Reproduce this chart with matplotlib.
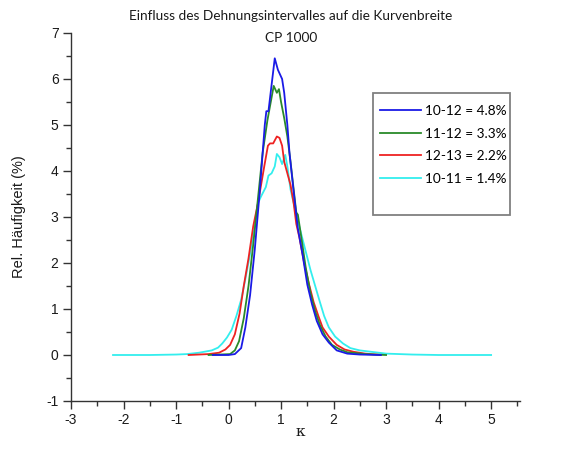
import matplotlib
matplotlib.use("Agg")
from matplotlib import pyplot as plt
from matplotlib.patches import Rectangle
from matplotlib.ticker import MultipleLocator

plt.rcParams['axes.unicode_minus'] = False

# kappa / relative frequency (%) per strain interval
blue_k = [-0.3, 0.0, 0.12, 0.24, 0.32, 0.41, 0.50, 0.59, 0.65, 0.69, 0.72, 0.76, 0.88, 0.94,
          1.02, 1.06, 1.12, 1.16, 1.24, 1.32, 1.41, 1.50, 1.59, 1.68, 1.79, 1.91, 2.06, 2.26,
          2.5, 2.9]
blue_v = [0.0, 0.0, 0.02, 0.15, 0.6, 1.3, 2.3, 3.5, 4.4, 5.0, 5.3, 5.3, 6.45, 6.2,
          6.0, 5.7, 5.0, 4.4, 3.55, 2.75, 2.18, 1.53, 1.1, 0.74, 0.45, 0.27, 0.1, 0.03,
          0.01, 0.0]

green_k = [-0.38, 0.03, 0.12, 0.20, 0.29, 0.38, 0.47, 0.56, 0.65, 0.74, 0.82, 0.86, 0.90,
           0.92, 0.96, 1.00, 1.06, 1.12, 1.18, 1.24, 1.29, 1.32, 1.38, 1.47, 1.56, 1.65,
           1.74, 1.85, 1.97, 2.12, 2.26, 2.6, 3.0]
green_v = [0.0, 0.02, 0.1, 0.3, 0.8, 1.5, 2.4, 3.4, 4.4, 5.1, 5.6, 5.85, 5.75,
           5.7, 5.78, 5.5, 5.15, 4.75, 4.2, 3.6, 3.1, 3.05, 2.6, 1.9, 1.35, 0.95,
           0.65, 0.4, 0.22, 0.12, 0.06, 0.02, 0.0]

red_k = [-0.76, -0.38, -0.18, -0.06, 0.03, 0.12, 0.21, 0.29, 0.38, 0.47, 0.56, 0.62, 0.68,
         0.75, 0.79, 0.85, 0.92, 0.97, 1.02, 1.06, 1.12, 1.18, 1.24, 1.29, 1.35, 1.44,
         1.53, 1.62, 1.71, 1.79, 1.91, 2.06, 2.21, 2.38, 2.6, 2.9]
red_v = [0.0, 0.02, 0.05, 0.12, 0.22, 0.45, 0.9, 1.5, 2.1, 2.8, 3.3, 3.7, 4.1,
         4.55, 4.6, 4.6, 4.75, 4.72, 4.55, 4.2, 3.95, 3.7, 3.3, 2.85, 2.55, 2.0,
         1.55, 1.15, 0.85, 0.6, 0.4, 0.22, 0.12, 0.07, 0.03, 0.0]

cyan_k = [-2.2, -1.5, -1.0, -0.79, -0.56, -0.32, -0.2, -0.12, -0.03, 0.06, 0.15, 0.24, 0.32,
          0.41, 0.50, 0.56, 0.62, 0.71, 0.76, 0.82, 0.88, 0.92, 0.97, 1.02, 1.08, 1.12,
          1.18, 1.24, 1.29, 1.38, 1.47, 1.56, 1.65, 1.74, 1.82, 1.91, 2.03, 2.18, 2.32,
          2.5, 3.0, 3.5, 4.0, 5.0]
cyan_v = [0.0, 0.0, 0.01, 0.02, 0.05, 0.1, 0.16, 0.25, 0.38, 0.55, 0.85, 1.2, 1.65,
          2.2, 2.8, 3.3, 3.45, 3.65, 3.9, 3.95, 4.1, 4.37, 4.3, 4.15, 4.35, 4.1,
          3.6, 3.3, 3.05, 2.65, 2.25, 1.85, 1.5, 1.15, 0.85, 0.6, 0.4, 0.25, 0.15,
          0.1, 0.03, 0.01, 0.0, 0.0]

labels = ['10-12 = 4.8%', '11-12 = 3.3%', '12-13 = 2.2%', '10-11 = 1.4%']
colors = ['#1a1ae6', '#2a8a2a', '#ee2222', '#33eeee']

W, H = 561, 458
fig = plt.figure(figsize=(W / 100, H / 100), dpi=100)
ax = fig.add_axes([71 / W, 1 - 401 / H, 449 / W, 368 / H])

series = [(blue_k, blue_v), (green_k, green_v), (red_k, red_v), (cyan_k, cyan_v)]
# cyan drawn first so the narrower curves sit on top
handles = {}
for i in [3, 2, 1, 0]:
    k, v = series[i]
    line, = ax.plot(k, v, color=colors[i], lw=1.3, label=labels[i])
    handles[i] = line

ax.set_xlim(-3, 5.55)
ax.set_ylim(-1, 7)
ax.spines['top'].set_visible(False)
ax.spines['right'].set_visible(False)
for s in ['left', 'bottom']:
    ax.spines[s].set_linewidth(1.0)
    ax.spines[s].set_color('#333333')

ax.xaxis.set_major_locator(MultipleLocator(1))
ax.xaxis.set_minor_locator(MultipleLocator(0.5))
ax.yaxis.set_major_locator(MultipleLocator(1))
ax.yaxis.set_minor_locator(MultipleLocator(0.5))
ax.tick_params(which='major', direction='out', length=6, width=1.0, color='#333333',
               labelsize=10, labelcolor='#1a1a1a', pad=3)
ax.tick_params(which='minor', direction='out', length=3.5, width=1.0, color='#333333')
for lab in ax.get_xticklabels() + ax.get_yticklabels():
    lab.set_fontfamily('Liberation Sans')

fig.text(291 / W, 1 - 16 / H, 'Einfluss des Dehnungsintervalles auf die Kurvenbreite',
         ha='center', va='center', fontsize=9.8, family='Lato', color='#1a1a1a')
fig.text(291 / W, 1 - 38 / H, 'CP 1000', ha='center', va='center', fontsize=9.8,
         family='Lato', color='#1a1a1a')
fig.text(19 / W, 1 - 217 / H, 'Rel. Häufigkeit (%)', rotation=90, ha='center',
         va='center', fontsize=10.5, family='Liberation Sans', color='#1a1a1a')
fig.text(300 / W, 1 - 432 / H, 'κ', ha='center', va='center', fontsize=11,
         family='DejaVu Serif', color='#1a1a1a')

leg = ax.legend([handles[i] for i in range(4)], labels, loc='upper left',
                bbox_to_anchor=(380 / W, 1 - 105 / H), bbox_transform=fig.transFigure,
                frameon=False, prop={'family': 'Lato', 'size': 9.8},
                handlelength=3.0, handletextpad=0.3, labelspacing=0.78,
                borderpad=0, borderaxespad=0)
fig.patches.append(Rectangle((373 / W, 1 - 215 / H), 137 / W, 122 / H,
                             transform=fig.transFigure, fill=False,
                             edgecolor='#808080', lw=1.3))

fig.savefig('out.png', dpi=100)
